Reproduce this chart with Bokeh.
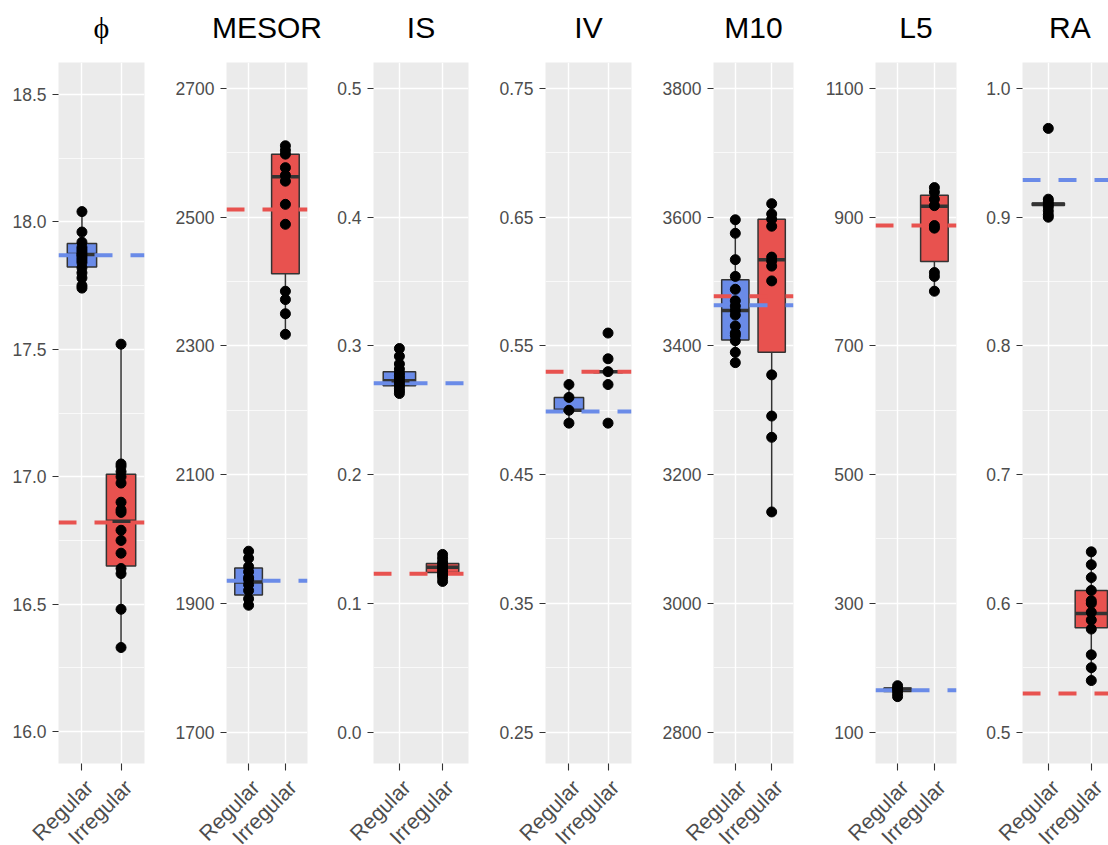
from bokeh.plotting import figure
from bokeh.layouts import row, column
from bokeh.models import FixedTicker, Range1d
from bokeh.core.properties import value
from bokeh.embed import file_html
from bokeh.resources import INLINE
import math

categories = ["Regular", "Irregular"]
cat_x = [1, 2]
titles = ["\u03d5", "MESOR", "IS", "IV", "M10", "L5", "RA"]

# ---- y-axis ticks (major) and labels ----
phi_ticks = [16.0, 16.5, 17.0, 17.5, 18.0, 18.5]
mesor_ticks = [1700, 1900, 2100, 2300, 2500, 2700]
is_ticks = [0.0, 0.1, 0.2, 0.3, 0.4, 0.5]
iv_ticks = [0.25, 0.35, 0.45, 0.55, 0.65, 0.75]
m10_ticks = [2800, 3000, 3200, 3400, 3600, 3800]
l5_ticks = [100, 300, 500, 700, 900, 1100]
ra_ticks = [0.5, 0.6, 0.7, 0.8, 0.9, 1.0]

phi_labels = ["16.0", "16.5", "17.0", "17.5", "18.0", "18.5"]
mesor_labels = ["1700", "1900", "2100", "2300", "2500", "2700"]
is_labels = ["0.0", "0.1", "0.2", "0.3", "0.4", "0.5"]
iv_labels = ["0.25", "0.35", "0.45", "0.55", "0.65", "0.75"]
m10_labels = ["2800", "3000", "3200", "3400", "3600", "3800"]
l5_labels = ["100", "300", "500", "700", "900", "1100"]
ra_labels = ["0.5", "0.6", "0.7", "0.8", "0.9", "1.0"]

# ---- y-axis limits ----
phi_ylim = [15.875, 18.625]
mesor_ylim = [1651.1, 2740.4]
is_ylim = [-0.02445, 0.5202]
iv_ylim = [0.22555, 0.7702]
m10_ylim = [2751.1, 3840.4]
l5_ylim = [51.1, 1140.4]
ra_ylim = [0.47555, 1.0202]

# ---- individual points ----
phi_regular = [18.04, 17.96, 17.92, 17.90, 17.89, 17.88, 17.87, 17.86, 17.85, 17.84, 17.82, 17.80, 17.78, 17.75, 17.74]
phi_irregular = [17.52, 17.05, 17.04, 17.02, 17.00, 16.975, 16.90, 16.87, 16.86, 16.79, 16.75, 16.70, 16.64, 16.62, 16.48, 16.33]
mesor_regular = [1981, 1970, 1957, 1949, 1940, 1937, 1929, 1920, 1907, 1897]
mesor_irregular = [2611, 2604, 2598, 2577, 2565, 2556, 2520, 2489, 2385, 2372, 2350, 2318]
is_regular = [0.298, 0.292, 0.286, 0.282, 0.279, 0.277, 0.275, 0.273, 0.271, 0.269, 0.267, 0.265, 0.263]
is_irregular = [0.138, 0.135, 0.132, 0.130, 0.128, 0.126, 0.124, 0.122, 0.120, 0.117]
iv_regular = [0.52, 0.51, 0.50, 0.49]
iv_irregular = [0.56, 0.54, 0.53, 0.52, 0.49]
m10_regular = [3596, 3575, 3534, 3508, 3488, 3470, 3462, 3455, 3448, 3431, 3420, 3416, 3408, 3390, 3374]
m10_irregular = [3621, 3605, 3597, 3586, 3538, 3532, 3524, 3501, 3355, 3291, 3258, 3142]
l5_regular = [172, 168, 165, 160, 155]
l5_irregular = [946, 939, 928, 918, 887, 883, 814, 808, 785]
ra_regular = [0.969, 0.914, 0.912, 0.910, 0.908, 0.905, 0.902, 0.900]
ra_irregular = [0.640, 0.630, 0.620, 0.610, 0.602, 0.600, 0.593, 0.587, 0.580, 0.560, 0.550, 0.540]

# ---- box statistics: [whisker low, Q1, median, Q3, whisker high] ----
phi_box_regular = [17.74, 17.823, 17.872, 17.915, 18.04]
phi_box_irregular = [16.33, 16.65, 16.825, 17.01, 17.52]
mesor_box_regular = [1897, 1913, 1933, 1955, 1981]
mesor_box_irregular = [2318, 2412, 2563, 2598, 2611]
is_box_regular = [0.263, 0.269, 0.273, 0.280, 0.298]
is_box_irregular = [0.117, 0.124, 0.128, 0.131, 0.138]
iv_box_regular = [0.49, 0.50, 0.50, 0.51, 0.52]
iv_box_irregular = [0.53, 0.53, 0.53, 0.53, 0.53]
m10_box_regular = [3374, 3409, 3455, 3503, 3596]
m10_box_irregular = [3142, 3390, 3534, 3597, 3621]
l5_box_regular = [155, 163, 167, 168, 172]
l5_box_irregular = [785, 831, 917, 934, 946]
ra_box_regular = [0.90, 0.909, 0.910, 0.911, 0.914]
ra_box_irregular = [0.540, 0.581, 0.592, 0.610, 0.640]

# ---- dashed reference lines: [Regular, Irregular] ----
phi_ref = [17.869, 16.82]
mesor_ref = [1935, 2512]
is_ref = [0.271, 0.123]
iv_ref = [0.499, 0.530]
m10_ref = [3463, 3477]
l5_ref = [165, 887]
ra_ref = [0.929, 0.53]

panels = [
    (titles[0], phi_ticks, phi_labels, phi_ylim, phi_regular, phi_irregular, phi_box_regular, phi_box_irregular, phi_ref),
    (titles[1], mesor_ticks, mesor_labels, mesor_ylim, mesor_regular, mesor_irregular, mesor_box_regular, mesor_box_irregular, mesor_ref),
    (titles[2], is_ticks, is_labels, is_ylim, is_regular, is_irregular, is_box_regular, is_box_irregular, is_ref),
    (titles[3], iv_ticks, iv_labels, iv_ylim, iv_regular, iv_irregular, iv_box_regular, iv_box_irregular, iv_ref),
    (titles[4], m10_ticks, m10_labels, m10_ylim, m10_regular, m10_irregular, m10_box_regular, m10_box_irregular, m10_ref),
    (titles[5], l5_ticks, l5_labels, l5_ylim, l5_regular, l5_irregular, l5_box_regular, l5_box_irregular, l5_ref),
    (titles[6], ra_ticks, ra_labels, ra_ylim, ra_regular, ra_irregular, ra_box_regular, ra_box_irregular, ra_ref),
]

# ---- layout (pixels) ----
fig_widths = [150, 180, 144, 163, 162, 163, 146]
left_borders = [58, 76, 43, 71, 76, 76, 60]
right_borders = [6, 23, 6, 6, 6, 6, 0]
x_min = 0.4
x_max = [2.6, 2.6, 2.6, 2.6, 2.6, 2.6, 2.4]
TITLE_H = 62          # strip holding the panel titles
MAIN_H = 709          # plotting panel (701) + tick marks below
LABEL_H = 845 - TITLE_H - MAIN_H
TITLE_MID = [35.5, 35, 35, 35, 35, 35, 35]    # title centre height within the title strip
LABEL_MID = LABEL_H - 12.6                     # centre-right point of category labels
LABEL_DX = 7.6

BLUE = "#6A8BE8"
RED = "#E8524F"
fills = [BLUE, RED]
DARK = "#333333"
TXT = "#4D4D4D"
BOX_W = 0.75


def strip(i, h):
    """A plain strip figure whose x scale lines up with panel i."""
    fw = fig_widths[i] - left_borders[i] - right_borders[i]
    ppu = fw / (x_max[i] - x_min)
    xr = Range1d(x_min - left_borders[i] / ppu, x_max[i] + right_borders[i] / ppu)
    s = figure(width=fig_widths[i], height=h, x_range=xr, y_range=Range1d(0, h),
               x_axis_type=None, y_axis_type=None, min_border=0,
               output_backend="svg", toolbar_location=None)
    s.outline_line_color = None
    s.background_fill_color = "white"
    s.border_fill_color = "white"
    return s


title_figs, main_figs, label_figs = [], [], []
for i, (title, ticks, labels, ylim, reg, irr, breg, birr, ref) in enumerate(panels):
    # ---- title strip ----
    t = strip(i, TITLE_H)
    t.text(x=[(x_min + 2.6) / 2], y=[TITLE_MID[i]], text=[title],
           text_align="center", text_baseline="middle",
           text_font=value("Liberation Serif" if i == 0 else "Liberation Sans"),
           text_font_size=value("30px"), text_color="black")
    title_figs.append(t)

    # ---- main panel ----
    p = figure(width=fig_widths[i], height=MAIN_H,
               x_range=Range1d(x_min, x_max[i]), y_range=Range1d(ylim[0], ylim[1]),
               output_backend="svg", toolbar_location=None,
               min_border_left=left_borders[i], min_border_right=right_borders[i],
               min_border_top=0, min_border_bottom=8)
    p.background_fill_color = "#EBEBEB"
    p.border_fill_color = "white"
    p.outline_line_color = None

    minors = [(ticks[k] + ticks[k + 1]) / 2 for k in range(len(ticks) - 1)]
    p.yaxis.ticker = FixedTicker(ticks=ticks, minor_ticks=minors)
    p.yaxis.major_label_overrides = {tk: lb for tk, lb in zip(ticks, labels)}
    p.xaxis.ticker = FixedTicker(ticks=cat_x)
    p.xaxis.major_label_overrides = {x: "" for x in cat_x}

    for ax in (p.xaxis[0], p.yaxis[0]):
        ax.axis_line_color = None
        ax.major_tick_line_color = DARK
        ax.major_tick_line_width = 1.1
        ax.major_tick_out = 6
        ax.major_tick_in = 0
        ax.minor_tick_line_color = None
        ax.major_label_text_font = "Liberation Sans"
        ax.major_label_text_color = TXT
        ax.major_label_standoff = 6
    p.yaxis.major_label_text_font_size = "17.5px"
    p.xaxis.major_label_text_font_size = "0px"
    p.xaxis.major_label_standoff = 0
    p.xaxis.major_tick_out = 7

    p.xgrid.grid_line_color = "white"
    p.xgrid.grid_line_width = 1.4
    p.ygrid.grid_line_color = "white"
    p.ygrid.grid_line_width = 1.4
    p.ygrid.minor_grid_line_color = "white"
    p.ygrid.minor_grid_line_width = 0.7

    boxes = [breg, birr]
    for j in range(2):
        lo, q1, med, q3, hi = boxes[j]
        x = cat_x[j]
        p.segment(x0=[x, x], y0=[lo, q3], x1=[x, x], y1=[q1, hi], line_color=DARK, line_width=1.5)
        p.quad(left=[x - BOX_W / 2], right=[x + BOX_W / 2], bottom=[q1], top=[q3],
               fill_color=fills[j], line_color=DARK, line_width=1.5)
        p.segment(x0=[x - BOX_W / 2], y0=[med], x1=[x + BOX_W / 2], y1=[med],
                  line_color=DARK, line_width=3.5)

    for j in range(2):
        p.segment(x0=[x_min], y0=[ref[j]], x1=[2.6], y1=[ref[j]], line_color=fills[j],
                  line_width=4, line_dash="18 18")

    for j, pts in enumerate([reg, irr]):
        p.scatter(x=[cat_x[j]] * len(pts), y=pts, size=10, color="black")
    main_figs.append(p)

    # ---- category labels strip (rotated 45 degrees) ----
    lab = strip(i, LABEL_H)
    lab.text(x=cat_x, y=[LABEL_MID] * 2, text=categories, angle=math.pi / 4,
             x_offset=LABEL_DX, text_align="right", text_baseline="middle",
             text_font=value("Liberation Sans"), text_font_size=value("21.5px"), text_color=TXT)
    label_figs.append(lab)

layout = column(row(*title_figs), row(*main_figs), row(*label_figs))
open("out.html", "w").write(file_html(layout, INLINE))
